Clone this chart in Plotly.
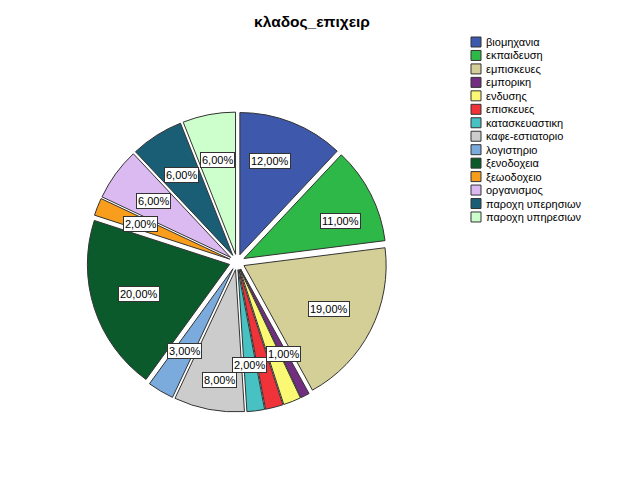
import math
import plotly.graph_objects as go

# category shares (percent)
categories = ['βιομηχανια', 'εκπαιδευση', 'εμπισκευες', 'εμπορικη', 'ενδυσης',
              'επισκευες', 'κατασκευαστικη', 'καφε-εστιατοριο', 'λογιστηριο',
              'ξενοδοχεια', 'ξεωοδοχειο', 'οργανισμος', 'παροχη υπερησιων',
              'παροχη υπηρεσιων']
percents = [12, 11, 19, 1, 2, 2, 2, 8, 3, 20, 2, 6, 6, 6]
# labels SPSS left out because they overlapped
hidden_labels = ['ενδυσης', 'επισκευες']

colors = ['#3E58AC', '#2EB848', '#D4CF97', '#732E81', '#FBF873', '#EF3338',
          '#48C1C3', '#CCCCCC', '#7BAADC', '#0B5A2C', '#F89D1C', '#DBBAF1',
          '#1A5E76', '#CCFFCC']

# small px nudges SPSS applied to a few label boxes
label_nudge = {'βιομηχανια': (-5, -5), 'εκπαιδευση': (11, 6),
               'καφε-εστιατοριο': (2, 16)}

# the page body has an 8px margin, so shrink the figure and shift everything
OFF = 8
W, H = 626 - OFF, 501 - OFF


def px(X, Y):
    # window pixel -> paper coords
    return (X - OFF) / W, 1 - (Y - OFF) / H


cx, cy, R = 237, 262, 150  # pie centre / outer radius (window px)
x0, y0 = px(cx - R, cy + R)
x1, y1 = px(cx + R, cy - R)

fig = go.Figure(go.Pie(
    labels=categories, values=percents, sort=False, direction='clockwise',
    rotation=0, pull=0.055, textinfo='none', hoverinfo='label+percent',
    marker=dict(colors=colors, line=dict(color='#333333', width=1)),
    domain=dict(x=[x0, x1], y=[y0, y1]),
    showlegend=False,
))

font = dict(family='Arial, Liberation Sans', size=11, color='black')

# boxed percentage labels along each slice's mid angle
total = sum(percents)
cum = 0
for cat, v in zip(categories, percents):
    mid = (cum + v / 2) / total * 2 * math.pi
    cum += v
    if cat in hidden_labels:
        continue
    r = 0.69 * R
    dx, dy = label_nudge.get(cat, (0, 0))
    ax, ay = px(cx + r * math.sin(mid) + dx, cy - r * math.cos(mid) + dy)
    fig.add_annotation(
        x=ax, y=ay, xref='paper', yref='paper', showarrow=False,
        xanchor='center', yanchor='middle',
        text=f'{v:.2f}%'.replace('.', ','), font=font,
        bgcolor='white', bordercolor='#333333', borderwidth=1, borderpad=1,
    )

# SPSS-style compact legend
lx, ly, step, box = 471, 42, 13.46, 10
for i, (cat, c) in enumerate(zip(categories, colors)):
    yc = ly + i * step
    bx0, by0 = px(lx, yc + box / 2)
    bx1, by1 = px(lx + box, yc - box / 2)
    fig.add_shape(type='rect', xref='paper', yref='paper',
                  x0=bx0, y0=by0, x1=bx1, y1=by1,
                  fillcolor=c, line=dict(color='#333333', width=1))
    tx, ty = px(lx + box + 3, yc)
    fig.add_annotation(x=tx, y=ty, xref='paper', yref='paper', showarrow=False,
                       xanchor='left', yanchor='middle', text=cat, font=font)

tx, ty = px(312, 22)
fig.update_layout(
    width=W, height=H,
    margin=dict(l=0, r=0, t=0, b=0),
    paper_bgcolor='white', plot_bgcolor='white',
    title=dict(text='<b>κλαδος_επιχειρ</b>', x=tx, xanchor='center',
               y=ty, yanchor='middle',
               font=dict(family='Arial, Liberation Sans', size=15.5, color='black')),
    font=dict(family='Arial, Liberation Sans'),
)

fig.write_html('out.html')
